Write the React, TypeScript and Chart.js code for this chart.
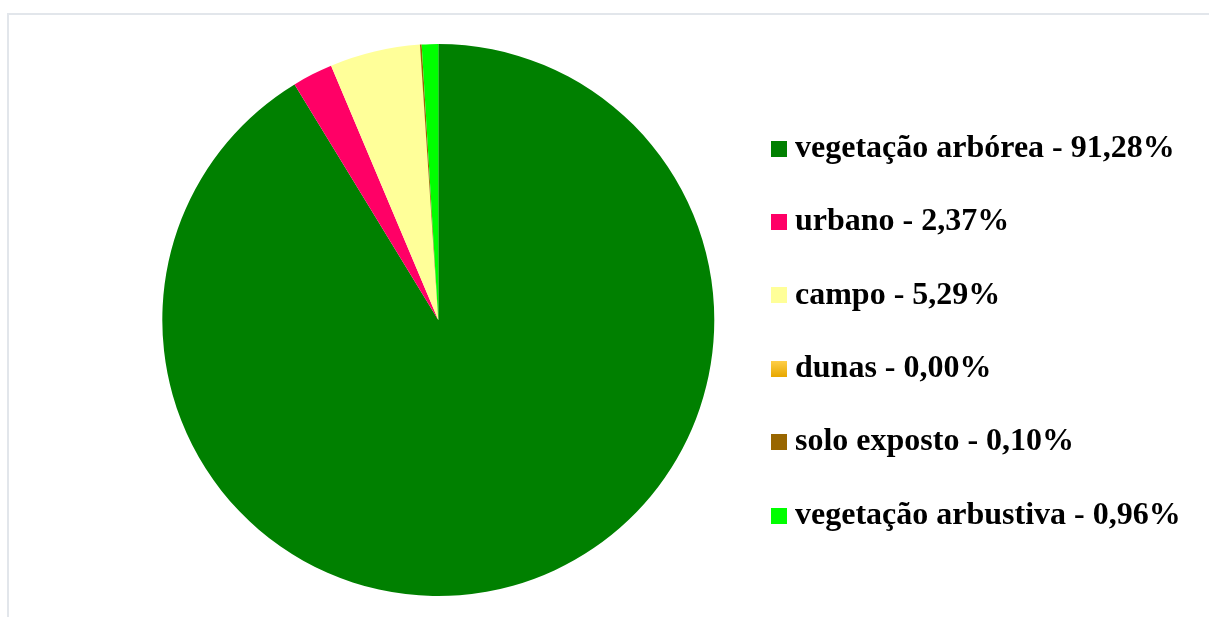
import React, { useEffect, useRef } from 'react';
import { Chart, registerables } from 'chart.js';

Chart.register(...registerables);

// ---- data ----
const categories = [
  'vegetação arbórea',
  'urbano',
  'campo',
  'dunas',
  'solo exposto',
  'vegetação arbustiva',
];
const percentages = [91.28, 2.37, 5.29, 0.0, 0.1, 0.96];
const colors = ['#008000', '#ff0066', '#ffff99', '#ffc000', '#996600', '#00ff00'];

// ---- layout / style ----
const W = 1209;
const H = 617;
const FONT_SIZE = 32;
const FONT_FAMILY = '"Liberation Serif", "Times New Roman", serif';
const LABEL_PAD = 41.4;
const BOX = 16;
const MARKER_W = 0.01;
const ITEM_X = 779;
const PAD_LEFT = 139;
const PAD_TOP = 44;
const PAD_BOTTOM = 21;

const fmt = (v: number) => v.toFixed(2).replace('.', ',') + '%';
const labelTexts = categories.map((c, i) => `${c} - ${fmt(percentages[i])}`);

function makeSwatch(i: number): HTMLCanvasElement {
  const c = document.createElement('canvas');
  c.width = BOX;
  c.height = BOX;
  const ctx = c.getContext('2d')!;
  if (i === 3) {
    const g = ctx.createLinearGradient(0, 0, 0, BOX);
    g.addColorStop(0, '#ffd04a');
    g.addColorStop(1, '#e8a800');
    ctx.fillStyle = g;
  } else {
    ctx.fillStyle = colors[i];
  }
  ctx.fillRect(0, 0, BOX, BOX);
  return c;
}

export default function App() {
  const ref = useRef<HTMLCanvasElement | null>(null);

  useEffect(() => {
    if (!ref.current) return;
    const m = document.createElement('canvas').getContext('2d')!;
    m.font = `bold ${FONT_SIZE}px ${FONT_FAMILY}`;
    const maxW = Math.max(...labelTexts.map((t) => m.measureText(t).width));
    const legendLeft = ITEM_X - LABEL_PAD;
    const legendWidth = LABEL_PAD + MARKER_W + FONT_SIZE / 2 + maxW + 10;
    const padRight = W - legendLeft - legendWidth;
    const swatches = categories.map((_, i) => makeSwatch(i));

    const chart = new Chart(ref.current, {
      type: 'pie',
      data: {
        labels: labelTexts,
        datasets: [
          {
            data: percentages,
            backgroundColor: colors,
            borderWidth: 0,
          },
        ],
      },
      options: {
        animation: false,
        responsive: false,
        maintainAspectRatio: false,
        layout: {
          padding: { left: PAD_LEFT, right: padRight, top: PAD_TOP, bottom: PAD_BOTTOM },
        },
        plugins: {
          tooltip: { enabled: false },
          legend: {
            position: 'right',
            align: 'center',
            title: {
              display: true,
              text: '',
              font: { size: 10, lineHeight: 1.2 },
              padding: { top: 0, bottom: 12 },
            },
            labels: {
              usePointStyle: true,
              pointStyleWidth: MARKER_W,
              padding: LABEL_PAD,
              color: '#000',
              font: { family: FONT_FAMILY, size: FONT_SIZE, weight: 'bold' },
              generateLabels: () =>
                labelTexts.map((t, i) => ({
                  text: t,
                  fillStyle: colors[i],
                  strokeStyle: 'transparent',
                  lineWidth: 0,
                  pointStyle: swatches[i],
                  hidden: false,
                  index: i,
                  fontColor: '#000',
                })),
            },
          },
        },
      },
    });
    return () => chart.destroy();
  }, []);

  return (
    <div
      style={{
        position: 'fixed',
        left: 0,
        top: 0,
        width: W,
        height: H,
        overflow: 'hidden',
        background: '#fff',
      }}
    >
      <div
        style={{
          position: 'absolute',
          left: 7,
          top: 13,
          width: 1300,
          height: 700,
          border: '2px solid #e2e6eb',
          boxSizing: 'border-box',
        }}
      />
      <canvas
        ref={ref}
        width={W}
        height={H}
        style={{ position: 'absolute', left: 0, top: 0, display: 'block' }}
      />
    </div>
  );
}
